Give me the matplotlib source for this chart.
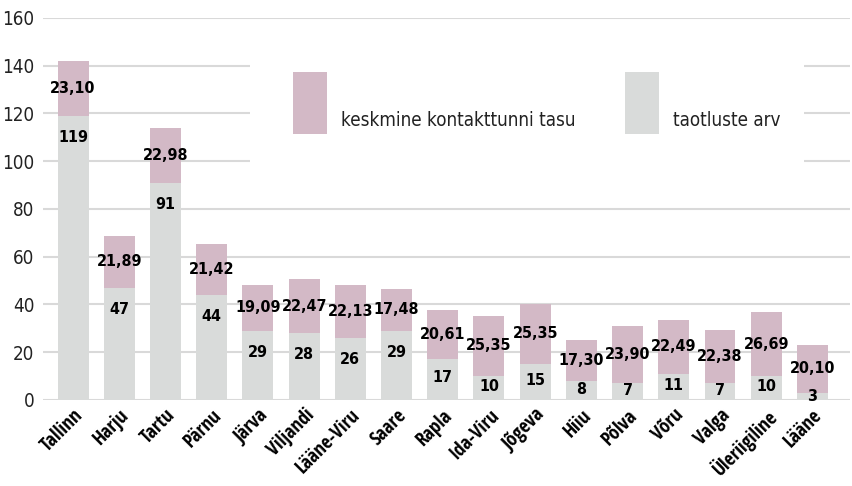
import matplotlib.pyplot as plt
from matplotlib.patches import Rectangle

maakonnad = ["Tallinn", "Harju", "Tartu", "Pärnu", "Järva", "Viljandi", "Lääne-Viru",
             "Saare", "Rapla", "Ida-Viru", "Jõgeva", "Hiiu", "Põlva", "Võru", "Valga",
             "Üleriigiline", "Lääne"]
taotlused = [119, 47, 91, 44, 29, 28, 26, 29, 17, 10, 15, 8, 7, 11, 7, 10, 3]
tasu = [23.10, 21.89, 22.98, 21.42, 19.09, 22.47, 22.13, 17.48, 20.61, 25.35,
        25.35, 17.30, 23.90, 22.49, 22.38, 26.69, 20.10]
y_ticks = [0, 20, 40, 60, 80, 100, 120, 140, 160]

bold = dict(family="DejaVu Sans", stretch="condensed", fontweight="bold", fontsize=11.5)
cat_font = dict(family=["Open Sans Condensed", "DejaVu Sans"], fontweight="bold", fontsize=14)
regular = dict(family="DejaVu Sans", stretch="condensed", fontsize=13.5)

grey = "#d9dbda"
mauve = "#d3b9c6"

fig = plt.figure(figsize=(8.52, 4.86), dpi=100)
ax = fig.add_axes([0.05, 0.177, 0.948, 0.786])

x = list(range(len(maakonnad)))
ax.bar(x, taotlused, width=0.67, color=grey, zorder=2)
ax.bar(x, tasu, width=0.67, bottom=taotlused, color=mauve, zorder=2)

for i in x:
    ax.text(i, taotlused[i] + tasu[i] * 0.5, f"{tasu[i]:.2f}".replace(".", ","),
            ha="center", va="center", zorder=5, **bold)
    ax.text(i, max(taotlused[i] - 9, taotlused[i] * 0.55), str(taotlused[i]),
            ha="center", va="center", zorder=5, **bold)

ax.set_xlim(-0.66, len(maakonnad) - 1 + 0.82)
ax.set_ylim(0, 160)
ax.set_yticks(y_ticks)
ax.set_yticklabels([str(t) for t in y_ticks], **regular)
ax.set_xticks(x)
ax.set_xticklabels(maakonnad, rotation=45, ha="right", rotation_mode="anchor", **cat_font)
ax.tick_params(axis="both", length=0)
ax.tick_params(axis="y", pad=6, labelcolor="#222222")
ax.tick_params(axis="x", pad=4)
ax.grid(axis="y", color="#d9d9d9", linewidth=1.5, zorder=0)
ax.set_axisbelow(True)
for s in ax.spines.values():
    s.set_visible(False)

# legend box drawn by hand
ax.add_patch(Rectangle((250 / 852, 1 - 175 / 486), 554 / 852, 120 / 486,
                       transform=fig.transFigure, facecolor="white",
                       edgecolor="none", zorder=1))
fig.patches.append(Rectangle((293 / 852, 1 - 134 / 486), 34 / 852, 62 / 486,
                             transform=fig.transFigure, facecolor=mauve))
fig.patches.append(Rectangle((625 / 852, 1 - 134 / 486), 34 / 852, 62 / 486,
                             transform=fig.transFigure, facecolor=grey))
fig.text(341 / 852, 1 - 120 / 486, "keskmine kontakttunni tasu", va="center",
         color="#222222", **regular)
fig.text(673 / 852, 1 - 120 / 486, "taotluste arv", va="center", color="#222222", **regular)

fig.savefig("out.png", dpi=100)
